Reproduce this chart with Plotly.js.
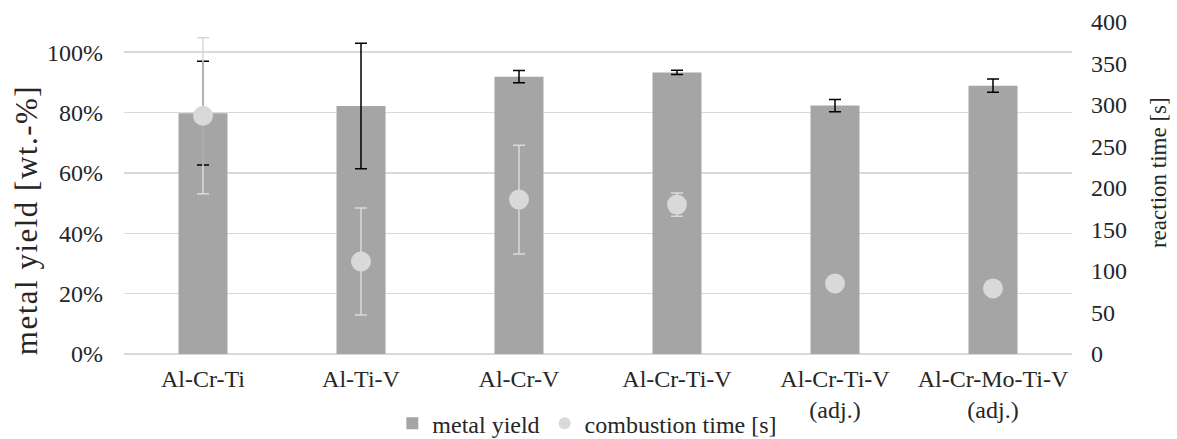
<!DOCTYPE html>
<html>
<head>
<meta charset="utf-8">
<script src="https://cdn.plot.ly/plotly-3.0.1.min.js"></script>
<style>html,body{margin:0;padding:0;background:#fff;}#chart{width:1177px;height:439px;}</style>
</head>
<body>
<div id="chart"></div>
<script>
const categories = ["Al-Cr-Ti", "Al-Ti-V", "Al-Cr-V", "Al-Cr-Ti-V", "Al-Cr-Ti-V<br>(adj.)", "Al-Cr-Mo-Ti-V<br>(adj.)"];
const metalYield = [0.798, 0.822, 0.919, 0.933, 0.823, 0.889];
const metalYieldErr = [0.172, 0.208, 0.020, 0.007, 0.020, 0.022];
const combustionTime = [287, 111.5, 186, 180, 85, 79];
const combustionTimeErr = [94, 64.5, 65.5, 14, 0, 0];
const leftTitle = "metal yield [wt.-%]";
const rightTitle = "reaction time [s]";

const FONT = "Liberation Serif";
const TXT = "#262626";

const traces = [
  {
    type: "bar", name: "metal yield", x: categories, y: metalYield,
    marker: {color: "#a5a5a5"}, width: 0.31,
    error_y: {type: "data", array: metalYieldErr, visible: true, color: "#000000", thickness: 1.5, width: 6},
    yaxis: "y", hoverinfo: "none"
  },
  {
    type: "scatter", mode: "markers", name: "combustion time [s]", x: categories, y: combustionTime,
    marker: {color: "#d9d9d9", size: 20},
    error_y: {type: "data", array: combustionTimeErr, visible: true, color: "#d9d9d9", thickness: 1.5, width: 6},
    yaxis: "y2", hoverinfo: "none"
  }
];

const layout = {
  width: 1177, height: 439,
  margin: {l: 124, r: 105, t: 22, b: 85, autoexpand: false},
  paper_bgcolor: "#ffffff", plot_bgcolor: "#ffffff",
  font: {family: FONT, color: TXT, size: 24},
  showlegend: true,
  legend: {orientation: "h", x: 0.499, xanchor: "center", xref: "container", y: 0.035, yanchor: "middle", yref: "container",
           font: {family: FONT, size: 24, color: TXT}, itemsizing: "constant", itemwidth: 30, bgcolor: "rgba(0,0,0,0)"},
  xaxis: {type: "category", range: [-0.5, 5.5], showgrid: false, showline: false, zeroline: false, automargin: false,
          ticks: "", ticklabelstandoff: 8, tickfont: {family: FONT, size: 24, color: TXT}},
  yaxis: {range: [0, 1.1], tickvals: [0, 0.2, 0.4, 0.6, 0.8, 1.0], automargin: false,
          ticktext: ["0%", "20%", "40%", "60%", "80%", "100%"],
          showgrid: true, gridcolor: "#d9d9d9", gridwidth: 1.5, zeroline: true, zerolinecolor: "#d9d9d9", zerolinewidth: 1.5,
          showline: false, ticks: "", ticklen: 0, ticklabelstandoff: 20, tickfont: {family: FONT, size: 24, color: TXT}},
  yaxis2: {overlaying: "y", side: "right", range: [0, 400], dtick: 50, showgrid: false, zeroline: false, automargin: false,
           showline: false, ticks: "", ticklabelstandoff: 18, tickfont: {family: FONT, size: 24, color: TXT}},
  annotations: [
    {text: leftTitle, xref: "paper", yref: "paper", x: -0.1034, y: 0.4036, xanchor: "center", yanchor: "middle",
     textangle: -90, showarrow: false, font: {family: FONT, size: 31, color: TXT}},
    {text: rightTitle, xref: "paper", yref: "paper", x: 1.0907, y: 0.548, xanchor: "center", yanchor: "middle",
     textangle: -90, showarrow: false, font: {family: FONT, size: 23, color: TXT}}
  ]
};

Plotly.newPlot("chart", traces, layout, {staticPlot: true, displayModeBar: false}).then(function () {
  const t = document.querySelectorAll(".annotation-text");
  if (t.length) { t[0].style.letterSpacing = "1.5px"; }
});
</script>
</body>
</html>
